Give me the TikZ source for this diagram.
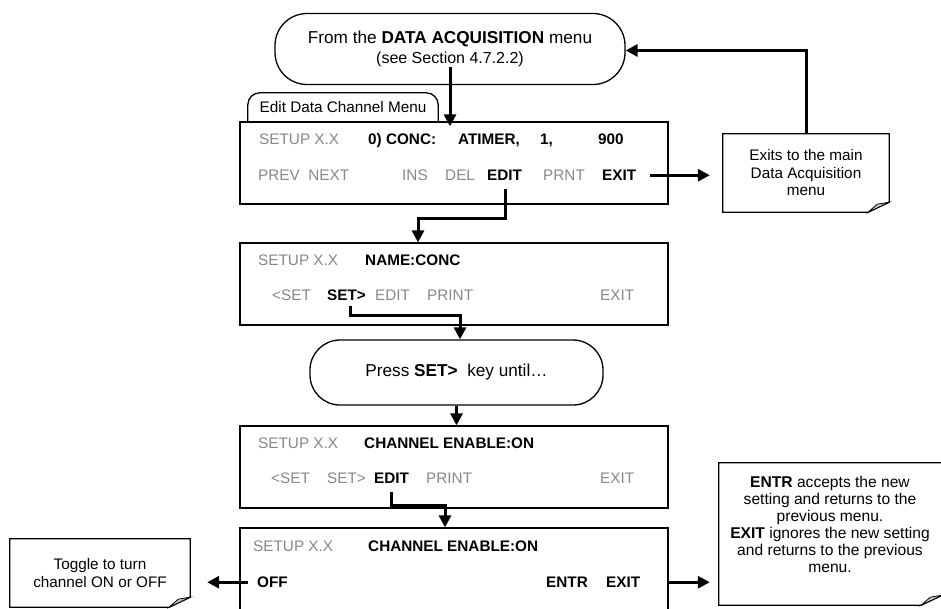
\documentclass[tikz,border=0pt]{standalone}
\usepackage{fontspec}
\setmainfont{Liberation Sans}
\usetikzlibrary{arrows.meta,calc}
\definecolor{menugray}{RGB}{135,135,135}
\definecolor{foldgray}{RGB}{200,200,200}
\newcommand\notedraw[1]{%
  \draw[boxl] (#1.north west) -- (#1.north east) -- ([yshift=10pt]#1.south east)
    -- ([xshift=-21pt]#1.south east) -- (#1.south west) -- cycle;
  \draw[line width=0.8pt, fill=foldgray] ([yshift=10pt]#1.south east)
    -- ([xshift=-21pt]#1.south east) -- ([xshift=-12pt,yshift=8pt]#1.south east) -- cycle;}
\begin{document}
\begin{tikzpicture}[x=1pt,y=-1pt,
  boxl/.style={draw=black,line width=1.3pt},
  menubox/.style={boxl,rectangle,inner sep=0pt,minimum width=428pt,minimum height=82pt},
  term/.style={draw,line width=1.3pt,inner sep=0pt,align=center,font=\fontsize{17.2}{20}\selectfont},
  gtxt/.style={anchor=base west,inner sep=0pt,text=menugray,font=\fontsize{15.3}{18}\selectfont},
  btxt/.style={anchor=base west,inner sep=0pt,text=black,font=\fontsize{15.3}{18}\selectfont\bfseries},
  conn/.style={line width=3pt,-{Triangle[length=12pt,width=12pt]}},
  notebox/.style={rectangle,inner sep=0pt,align=center,font=\fontsize{15.3}{17.5}\selectfont},
]
\clip (0,0) rectangle (941,608);

% terminators
\node[term,rounded corners=32pt,minimum width=350pt,minimum height=71pt] (term1) at (450,49)
  {From the \textbf{DATA ACQUISITION} menu\\{\fontsize{16}{20}\selectfont (see Section 4.7.2.2)}};
\node[term,rounded corners=30pt,minimum width=293pt,minimum height=65pt] (term2) at (456.5,372.5)
  {Press \textbf{SET>}\ \ key until\ldots};

% tab
\node[notebox,minimum width=190pt,minimum height=29pt] (tab) at (343,107.5) {Edit Data Channel Menu};
\draw[boxl,rounded corners=12pt] (tab.south west) -- (tab.north west) -- (tab.north east) -- (tab.south east);

% menu boxes
\node[menubox] (box1) at (454,163) {};
\node[menubox] (box2) at (454,284) {};
\node[menubox] (box3) at (454,467) {};
\node[menubox] (box4) at (454,569) {};

% box1 text
\node[gtxt] (su1) at (259,144.5) {SETUP X.X};
\node[btxt] (conc1) at (368,144.5) {0) CONC:};
\node[btxt] (atim1) at (458,144.5) {ATIMER,};
\node[btxt] (one1) at (540,144.5) {1,};
\node[btxt] (n9001) at (598,144.5) {900};
\node[gtxt] (prev1) at (258,180.5) {PREV\ \ NEXT};
\node[gtxt] (ins1) at (402,180.5) {INS};
\node[gtxt] (del1) at (445,180.5) {DEL};
\node[btxt] (edit1) at (487,180.5) {EDIT};
\node[gtxt] (prnt1) at (543,180.5) {PRNT};
\node[btxt] (exit1) at (602,180.5) {EXIT};

% box2 text
\node[gtxt] (su2) at (258,265.5) {SETUP X.X};
\node[btxt] (name2) at (365,265.5) {NAME:CONC};
\node[gtxt] (lset2) at (272,300.5) {<SET};
\node[btxt] (set2) at (327,300.5) {SET>};
\node[gtxt] (edit2) at (375,300.5) {EDIT};
\node[gtxt] (print2) at (427,300.5) {PRINT};
\node[gtxt] (exit2) at (600,300.5) {EXIT};

% box3 text
\node[gtxt] (su3) at (258,448.5) {SETUP X.X};
\node[btxt] (ch3) at (364,448.5) {CHANNEL ENABLE:ON};
\node[gtxt] (lset3) at (271,483.5) {<SET};
\node[gtxt] (set3) at (327,483.5) {SET>};
\node[btxt] (edit3) at (374,483.5) {EDIT};
\node[gtxt] (print3) at (426,483.5) {PRINT};
\node[gtxt] (exit3) at (600,483.5) {EXIT};

% box4 text
\node[gtxt] (su4) at (253,551.5) {SETUP X.X};
\node[btxt] (ch4) at (368,551.5) {CHANNEL ENABLE:ON};
\node[btxt] (off4) at (257,587.5) {OFF};
\node[btxt] (entr4) at (546,587.5) {ENTR};
\node[btxt] (exit4) at (606,587.5) {EXIT};

% notes
\node[notebox,minimum width=166pt,minimum height=78pt] (exitnote) at (806,173)
  {Exits to the main\\Data Acquisition\\menu};
\notedraw{exitnote}
\node[notebox,minimum width=180pt,minimum height=68pt] (togglenote) at (100,573)
  {Toggle to turn\\channel ON or OFF};
\notedraw{togglenote}
\node[notebox,minimum width=223pt,minimum height=142pt] (entrnote) at (830.5,534) {};
\notedraw{entrnote}
\node[notebox,font=\fontsize{15.6}{17}\selectfont] (entrtext) at (830,524.5)
  {\textbf{ENTR} accepts the new\\setting and returns to the\\previous menu.\\\textbf{EXIT} ignores the new setting\\and returns to the previous\\menu.};

% connectors
\coordinate (s1) at (450,67);
\draw[conn] (s1) -- ([yshift=-5pt]s1 |- box1.north);
\draw[conn,shorten >=13pt] ([xshift=14pt]exit1.east) -- (exitnote.west |- exit1.east);
\draw[conn] (exitnote.north) |- ([yshift=-1.5pt]term1.east);
\coordinate (k4) at (418,218);
\draw[conn] ([xshift=1pt,yshift=-8pt]edit1.south) |- (k4) -- (k4 |- box2.north);
\coordinate (k5) at (460,315);
\draw[conn] ([xshift=4pt,yshift=-5pt]set2.south) |- (k5) -- (k5 |- term2.north);
\draw[conn] (term2.south) -- (term2.south |- box3.north);
\coordinate (k7) at (445,505);
\draw[conn] ([xshift=0pt,yshift=-8pt]edit3.south) |- (k7) -- (k7 |- box4.north);
\draw[conn,shorten >=17pt] ([xshift=-9pt]off4.west) -- (togglenote.east |- off4.west);
\draw[conn,shorten >=9pt] (box4.east |- exit4.east) -- (entrnote.west |- exit4.east);
\end{tikzpicture}
\end{document}
